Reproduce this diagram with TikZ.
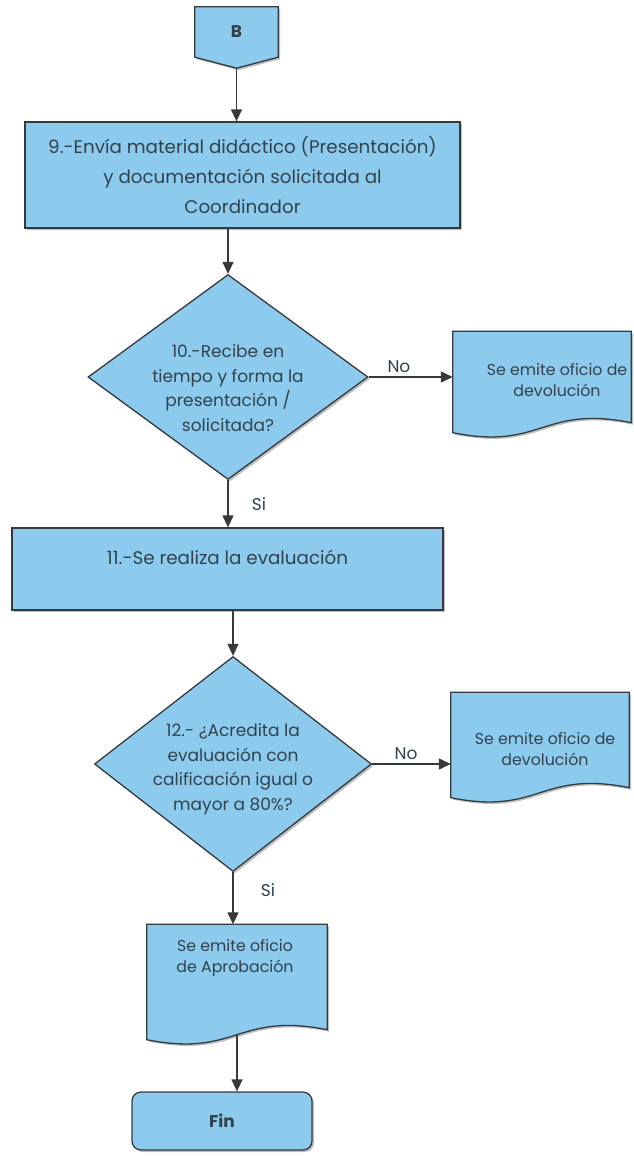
\documentclass[tikz,border=0pt]{standalone}
\usepackage{fontspec}
\setmainfont{Poppins}
\usetikzlibrary{shapes.geometric,arrows.meta,backgrounds,calc,shadows}

\definecolor{boxfill}{RGB}{140,203,238}
\definecolor{boxline}{RGB}{55,58,60}
\definecolor{boxtext}{RGB}{50,66,76}

\tikzset{
  base/.style={fill=boxfill, draw=boxline, line width=1.3pt,
    drop shadow={shadow xshift=2pt, shadow yshift=-2pt, fill=black, opacity=.25}},
  process/.style={base, rectangle, align=center, text=boxtext, font=\fontsize{18.3}{30}\selectfont},
  decision/.style={base, diamond, inner sep=0pt},
  final/.style={base, rectangle, rounded corners=9pt, text=boxtext, font=\bfseries\fontsize{17}{20}\selectfont},
  txt/.style={align=center, text=boxtext, font=\fontsize{17}{24.5}\selectfont},
  doctxt/.style={align=center, text=boxtext, font=\fontsize{15.8}{21}\selectfont},
  lbl/.style={text=boxtext, font=\fontsize{17}{20}\selectfont},
  arr/.style={-{Triangle[length=12pt,width=11pt]}, draw=boxline, line width=1.3pt}
}

\newcommand{\docshape}[1]{%
  \begin{scope}[on background layer]
    \filldraw[base] (#1.north west) -- (#1.north east) -- ($(#1.south east)+(0,-10)$)
      .. controls ($(#1.south)+(0,-28)$) and ($(#1.south)+(0,18)$) .. (#1.south west) -- cycle;
  \end{scope}}

\begin{document}
\begin{tikzpicture}[x=1pt,y=-1pt]
  \useasboundingbox (0,0) rectangle (633,1156);

  \node[minimum width=83pt, minimum height=50pt, text=boxtext, font=\bfseries\fontsize{17}{20}\selectfont] (B) at (236.5,32) {B};
  \begin{scope}[on background layer]
    \filldraw[base] (B.north west) -- (B.north east) -- (B.south east) -- ($(B.south)+(0,11)$) -- (B.south west) -- cycle;
  \end{scope}
  \coordinate (Bpt) at ($(B.south)+(0,11)$);

  \node[process, minimum width=435pt, minimum height=106pt] (n9) at (242.5,175)
    {9.-Envía material didáctico (Presentación)\\y documentación solicitada al\\Coordinador};

  \node[decision, minimum width=280pt, minimum height=205pt] (d10) at (228,377) {};
  \node[txt] (t10) at (228,388) {10.-Recibe en\\tiempo y forma la\\presentación /\\solicitada?};

  \node[minimum width=178pt, minimum height=101pt] (doc1) at (542,382) {};
  \docshape{doc1}
  \node[doctxt] (tdoc1) at (557,380) {Se emite oficio de\\devolución};

  \node[process, minimum width=431pt, minimum height=82pt] (n11) at (227.5,569) {};
  \node[txt, font=\fontsize{18.3}{24}\selectfont] (t11) at (227.5,557) {11.-Se realiza la evaluación};

  \node[decision, minimum width=277pt, minimum height=215pt] (d12) at (233,764) {};
  \node[txt] (t12) at (233,769) {12.- ¿Acredita la\\evaluación con\\calificación igual o\\mayor a 80\%?};

  \node[minimum width=178pt, minimum height=105pt] (doc2) at (540,745) {};
  \docshape{doc2}
  \node[doctxt] (tdoc2) at (545,749) {Se emite oficio de\\devolución};

  \node[minimum width=180pt, minimum height=115pt] (doc3) at (237,982) {};
  \docshape{doc3}
  \node[doctxt] (tdoc3) at (235,958) {Se emite oficio\\de Aprobación};

  \node[final, minimum width=180pt, minimum height=58pt] (fin) at (222,1121) {Fin};

  \draw[arr] (Bpt) -- (Bpt |- n9.north);
  \draw[arr] (d10.north |- n9.south) -- (d10.north);
  \draw[arr] (d10.east) -- node[lbl, above, pos=.36] (no1) {No} (d10.east -| doc1.west);
  \draw[arr] (d10.south) -- node[lbl, right=20pt] (si1) {Si} (d10.south |- n11.north);
  \draw[arr] (d12.north |- n11.south) -- (d12.north);
  \draw[arr] (d12.east) -- node[lbl, above, pos=.43] (no2) {No} (d12.east -| doc2.west);
  \draw[arr] (d12.south) -- node[lbl, right=24pt, pos=.35] (si2) {Si} (d12.south |- doc3.north);
  \draw[arr, shorten <=-5pt] (doc3.south) -- (doc3.south |- fin.north);
\end{tikzpicture}
\end{document}
